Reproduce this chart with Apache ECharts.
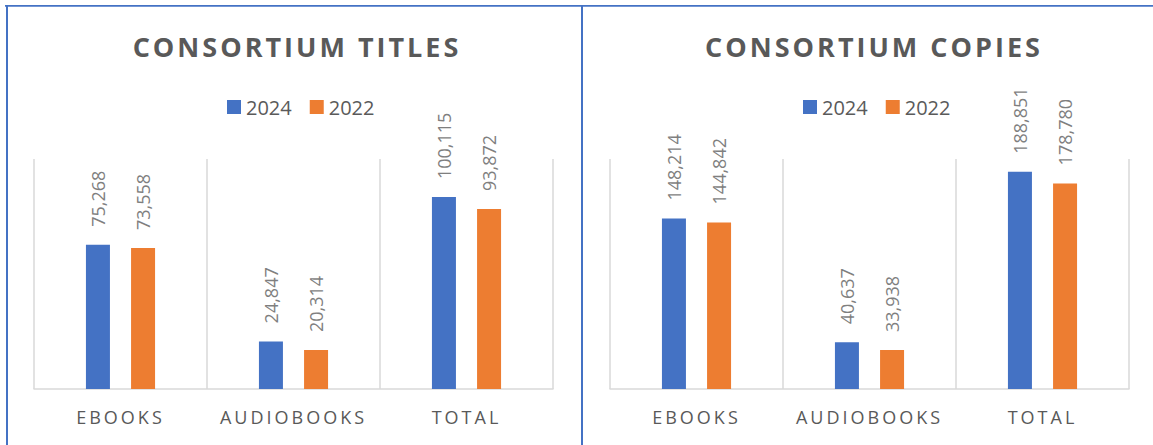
<!DOCTYPE html>
<html>
<head>
<meta charset="utf-8">
<script src="https://cdn.jsdelivr.net/npm/echarts@6/dist/echarts.min.js"></script>
<style>
  html, body { margin: 0; padding: 0; background: #fff; }
  #chart { width: 1153px; height: 445px; }
  /* spaced caps for titles and category names */
  #chart text[fill="#595959"] { letter-spacing: 3px; }
</style>
</head>
<body>
<div id="chart"></div>
<script>
const categories = ['EBOOKS', 'AUDIOBOOKS', 'TOTAL']
const seriesNames = ['2024', '2022']
const titles2024 = [75268, 24847, 100115]
const titles2022 = [73558, 20314, 93872]
const copies2024 = [148214, 40637, 188851]
const copies2022 = [144842, 33938, 178780]

const colors = ['#4472C4', '#ED7D31']
const font = 'Open Sans'

const chart = echarts.init(document.getElementById('chart'), null, { renderer: 'svg' })

const makeX = idx => ({
  type: 'category',
  gridIndex: idx,
  data: categories,
  axisTick: { show: false },
  axisLine: { lineStyle: { color: '#d9d9d9', width: 1.5 } },
  splitLine: { show: true, interval: 0, lineStyle: { color: '#d9d9d9', width: 1.5 } },
  axisLabel: { color: '#595959', fontSize: 18, fontFamily: font, margin: 19, interval: 0 }
})

const makeY = (idx, max) => ({
  type: 'value',
  gridIndex: idx,
  min: 0,
  max: max,
  show: false,
  splitLine: { show: false }
})

const makeBar = (name, data, idx, color) => ({
  name: name,
  type: 'bar',
  xAxisIndex: idx,
  yAxisIndex: idx,
  data: data,
  barWidth: 24,
  barGap: '88%',
  itemStyle: { color: color },
  label: {
    show: true,
    position: 'top',
    rotate: 90,
    align: 'left',
    verticalAlign: 'middle',
    distance: 18,
    color: '#7f7f7f',
    fontSize: 18,
    fontFamily: font,
    formatter: p => p.value.toLocaleString('en-US')
  }
})

const legendBase = {
  data: seriesNames,
  top: 92,
  itemWidth: 14,
  itemHeight: 14,
  itemGap: 18,
  icon: 'rect',
  textStyle: { color: '#5a5a5a', fontSize: 20, fontFamily: font }
}

const option = {
  animation: false,
  color: colors,
  title: [
    {
      text: 'CONSORTIUM TITLES',
      left: 292, top: 28, textAlign: 'center',
      textStyle: { color: '#595959', fontSize: 27, fontWeight: 'bold', fontFamily: font }
    },
    {
      text: 'CONSORTIUM COPIES',
      left: 869, top: 28, textAlign: 'center',
      textStyle: { color: '#595959', fontSize: 27, fontWeight: 'bold', fontFamily: font }
    }
  ],
  legend: [
    Object.assign({}, legendBase, { left: 222 }),
    Object.assign({}, legendBase, { left: 798 })
  ],
  grid: [
    { left: 34, top: 159, width: 519, height: 230 },
    { left: 610, top: 159, width: 519, height: 230 }
  ],
  xAxis: [makeX(0), makeX(1)],
  yAxis: [makeY(0, 120000), makeY(1, 200000)],
  series: [
    makeBar(seriesNames[0], titles2024, 0, colors[0]),
    makeBar(seriesNames[1], titles2022, 0, colors[1]),
    makeBar(seriesNames[0], copies2024, 1, colors[0]),
    makeBar(seriesNames[1], copies2022, 1, colors[1])
  ],
  // panel frame lines
  graphic: [
    { type: 'rect', shape: { x: 5, y: 5, width: 1148, height: 1.75 }, style: { fill: '#4472C4' } },
    { type: 'rect', shape: { x: 6, y: 5, width: 2, height: 440 }, style: { fill: '#4472C4' } },
    { type: 'rect', shape: { x: 581, y: 5, width: 2, height: 440 }, style: { fill: '#4472C4' } }
  ]
}

chart.setOption(option)
</script>
</body>
</html>
